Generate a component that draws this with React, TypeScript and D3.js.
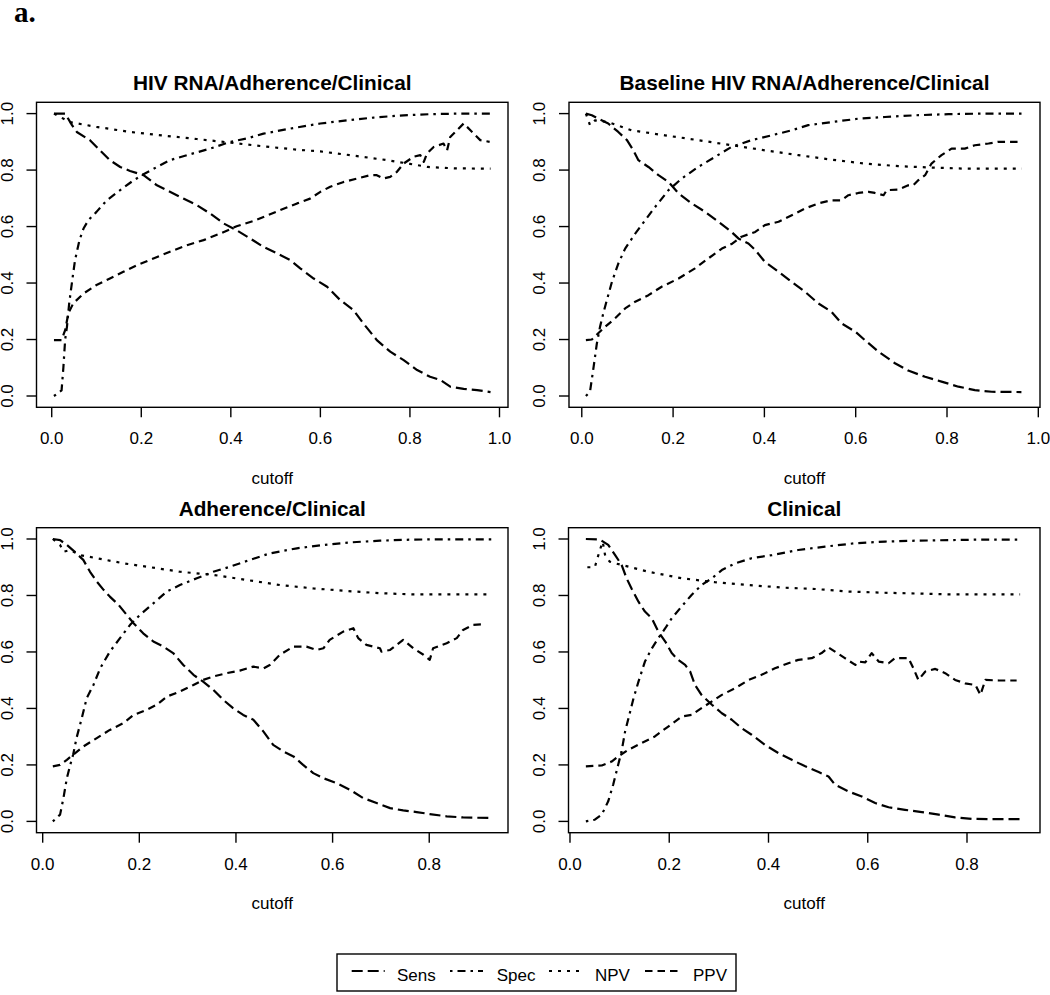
import React from "react";
import * as d3 from "d3";

type Pt = [number, number];

// ---------- DATA ----------
const panelTitles = [
  "HIV RNA/Adherence/Clinical",
  "Baseline HIV RNA/Adherence/Clinical",
  "Adherence/Clinical",
  "Clinical",
];
const seriesNames = ["Sens", "Spec", "NPV", "PPV"];
const yTickValues = [0, 0.2, 0.4, 0.6, 0.8, 1.0];
const xTickValuesTop = [0, 0.2, 0.4, 0.6, 0.8, 1.0];
const xTickValuesBottom = [0, 0.2, 0.4, 0.6, 0.8];
const xAxisLimits: [number, number][] = [
  [-0.034, 1.019],
  [-0.028, 1.0037],
  [-0.0128, 0.963],
  [-0.003, 0.9471],
];
const yAxisLimits: [number, number] = [-0.04, 1.04];

// Panel 1: HIV RNA/Adherence/Clinical
const p1Sens: Pt[] = [[.005,1.0],[.03,1.0],[.045,.96],[.056,.935],[.086,.905],[.104,.876],[.13,.835],[.153,.811],[.175,.797],[.205,.782],[.235,.746],[.264,.723],[.294,.699],[.324,.676],[.354,.646],[.384,.611],[.413,.587],[.443,.558],[.473,.528],[.503,.505],[.533,.481],[.555,.452],[.585,.416],[.615,.387],[.644,.34],[.674,.304],[.696,.257],[.726,.198],[.756,.157],[.786,.127],[.816,.092],[.845,.068],[.868,.057],[.89,.033],[.92,.025],[.95,.021],[.98,.014]];
const p1Spec: Pt[] = [[.005,0],[.022,.02],[.026,.1],[.03,.2],[.034,.245],[.039,.328],[.045,.4],[.052,.481],[.062,.552],[.071,.593],[.082,.623],[.1,.652],[.123,.693],[.153,.729],[.183,.764],[.205,.785],[.235,.811],[.264,.835],[.302,.853],[.354,.876],[.399,.9],[.436,.912],[.473,.929],[.533,.947],[.6,.965],[.659,.976],[.719,.986],[.786,.994],[.845,.998],[.912,1.0],[.98,1.0]];
const p1Npv: Pt[] = [[.005,1.0],[.04,.97],[.1,.953],[.175,.935],[.25,.922],[.324,.91],[.4,.897],[.473,.884],[.55,.872],[.6,.866],[.67,.852],[.745,.836],[.8,.822],[.84,.811],[.9,.806],[.98,.805]];
const p1Ppv: Pt[] = [[.005,.198],[.022,.198],[.03,.233],[.037,.292],[.048,.328],[.071,.363],[.1,.393],[.13,.416],[.16,.44],[.19,.463],[.227,.487],[.264,.511],[.302,.534],[.339,.552],[.376,.575],[.413,.601],[.451,.62],[.473,.634],[.51,.658],[.548,.682],[.577,.699],[.6,.723],[.622,.741],[.652,.758],[.682,.77],[.711,.782],[.726,.782],[.741,.77],[.756,.776],[.771,.794],[.786,.823],[.808,.847],[.823,.853],[.831,.829],[.838,.859],[.853,.882],[.875,.894],[.883,.87],[.89,.917],[.905,.941],[.92,.965],[.935,.941],[.957,.906],[.978,.9]];

// Panel 2: Baseline HIV RNA/Adherence/Clinical
const p2Sens: Pt[] = [[.009,1.0],[.022,.994],[.036,.982],[.058,.965],[.08,.935],[.099,.906],[.113,.87],[.124,.835],[.146,.811],[.168,.782],[.19,.758],[.212,.717],[.241,.682],[.27,.652],[.299,.617],[.328,.581],[.343,.558],[.365,.54],[.38,.517],[.401,.475],[.431,.44],[.46,.404],[.489,.369],[.518,.328],[.547,.298],[.569,.257],[.599,.228],[.62,.198],[.65,.157],[.686,.116],[.715,.09],[.752,.068],[.788,.051],[.825,.033],[.861,.021],[.898,.015],[.963,.014]];
const p2Spec: Pt[] = [[.009,0],[.018,.015],[.026,.104],[.033,.186],[.04,.245],[.047,.292],[.055,.34],[.066,.404],[.08,.469],[.095,.522],[.117,.575],[.139,.623],[.161,.67],[.19,.729],[.219,.77],[.255,.811],[.292,.847],[.328,.882],[.372,.906],[.416,.923],[.46,.941],[.496,.959],[.547,.97],[.606,.982],[.664,.988],[.73,.994],[.803,.998],[.876,1.0],[.964,1.0]];
const p2Npv: Pt[] = [[.009,1.0],[.018,.959],[.029,.976],[.058,.97],[.109,.941],[.182,.923],[.255,.906],[.328,.888],[.401,.87],[.474,.853],[.547,.837],[.62,.823],[.693,.814],[.766,.809],[.839,.805],[.964,.805]];
const p2Ppv: Pt[] = [[.009,.198],[.022,.2],[.036,.222],[.051,.245],[.073,.275],[.095,.31],[.117,.334],[.146,.357],[.175,.387],[.212,.416],[.248,.452],[.277,.487],[.307,.522],[.328,.538],[.35,.564],[.38,.581],[.401,.605],[.431,.617],[.46,.64],[.489,.664],[.518,.682],[.547,.693],[.569,.693],[.584,.711],[.606,.719],[.628,.723],[.642,.719],[.661,.711],[.668,.729],[.693,.731],[.715,.746],[.726,.746],[.737,.764],[.752,.782],[.766,.823],[.788,.853],[.81,.876],[.839,.876],[.861,.888],[.891,.894],[.912,.9],[.964,.9]];

// Panel 3: Adherence/Clinical
const p3Sens: Pt[] = [[.021,1.0],[.036,.996],[.05,.979],[.07,.949],[.084,.926],[.098,.884],[.112,.849],[.126,.82],[.139,.796],[.157,.767],[.174,.731],[.188,.702],[.208,.666],[.229,.637],[.25,.619],[.27,.596],[.291,.554],[.312,.519],[.332,.495],[.353,.466],[.374,.43],[.394,.401],[.415,.377],[.436,.36],[.457,.318],[.477,.271],[.498,.248],[.519,.23],[.539,.2],[.56,.171],[.581,.153],[.608,.136],[.636,.112],[.663,.083],[.691,.065],[.719,.047],[.746,.039],[.774,.033],[.801,.026],[.836,.018],[.87,.014],[.929,.012]];
const p3Spec: Pt[] = [[.021,0],[.036,.024],[.043,.083],[.05,.153],[.057,.2],[.063,.236],[.07,.295],[.081,.366],[.091,.436],[.105,.483],[.119,.542],[.139,.601],[.16,.649],[.181,.696],[.201,.731],[.229,.772],[.257,.814],[.284,.837],[.319,.861],[.353,.884],[.388,.902],[.429,.926],[.47,.949],[.526,.967],[.581,.979],[.636,.988],[.698,.994],[.767,.998],[.836,.999],[.929,.999]];
const p3Npv: Pt[] = [[.021,1.0],[.036,.979],[.043,.955],[.057,.961],[.077,.943],[.112,.932],[.167,.914],[.215,.902],[.284,.884],[.353,.873],[.422,.855],[.491,.837],[.56,.825],[.629,.816],[.698,.808],[.767,.804],[.929,.804]];
const p3Ppv: Pt[] = [[.021,.195],[.036,.2],[.05,.218],[.063,.236],[.084,.265],[.112,.295],[.139,.324],[.167,.348],[.188,.377],[.215,.395],[.236,.413],[.257,.442],[.284,.46],[.312,.483],[.332,.501],[.353,.513],[.381,.525],[.408,.534],[.436,.548],[.457,.542],[.47,.554],[.491,.59],[.519,.619],[.546,.619],[.567,.607],[.581,.613],[.594,.643],[.622,.672],[.643,.684],[.653,.649],[.67,.625],[.698,.613],[.701,.601],[.719,.607],[.746,.643],[.767,.613],[.788,.59],[.801,.572],[.808,.613],[.836,.631],[.857,.649],[.87,.678],[.891,.696],[.915,.698]];

// Panel 4: Clinical
const p4Sens: Pt[] = [[.032,1.0],[.06,.998],[.077,.979],[.091,.943],[.104,.908],[.114,.861],[.124,.825],[.138,.778],[.151,.743],[.165,.719],[.178,.672],[.192,.637],[.205,.596],[.218,.572],[.232,.554],[.242,.531],[.252,.483],[.265,.448],[.286,.413],[.306,.383],[.326,.36],[.346,.33],[.366,.307],[.393,.271],[.42,.242],[.447,.218],[.474,.195],[.501,.175],[.521,.159],[.534,.13],[.561,.106],[.588,.088],[.615,.065],[.642,.05],[.675,.041],[.709,.033],[.743,.024],[.776,.014],[.81,.009],[.85,.008],[.907,.008]];
const p4Spec: Pt[] = [[.032,0],[.05,.006],[.064,.024],[.077,.071],[.087,.13],[.097,.2],[.104,.248],[.111,.318],[.118,.366],[.128,.436],[.138,.495],[.151,.566],[.165,.613],[.178,.649],[.192,.684],[.205,.719],[.225,.761],[.245,.802],[.265,.837],[.286,.861],[.306,.89],[.333,.914],[.366,.932],[.407,.943],[.46,.961],[.514,.973],[.575,.985],[.635,.991],[.696,.994],[.763,.996],[.83,.998],[.907,.998]];
const p4Npv: Pt[] = [[.035,.9],[.05,.9],[.06,.96],[.066,.99],[.071,.94],[.08,.92],[.091,.914],[.158,.884],[.225,.861],[.292,.847],[.36,.837],[.427,.828],[.494,.823],[.561,.814],[.628,.81],[.696,.807],[.763,.804],[.907,.804]];
const p4Ppv: Pt[] = [[.032,.195],[.064,.198],[.084,.212],[.097,.23],[.118,.254],[.144,.277],[.171,.301],[.198,.336],[.225,.371],[.245,.377],[.265,.401],[.286,.425],[.306,.448],[.333,.472],[.36,.501],[.386,.519],[.413,.542],[.44,.56],[.46,.572],[.487,.578],[.507,.596],[.521,.616],[.534,.601],[.554,.578],[.575,.554],[.581,.566],[.595,.563],[.608,.596],[.622,.566],[.642,.56],[.655,.578],[.682,.578],[.692,.542],[.702,.501],[.716,.531],[.736,.54],[.756,.525],[.776,.501],[.796,.489],[.817,.483],[.827,.448],[.837,.501],[.864,.499],[.9,.499]];

const panelSeries: Pt[][][] = [
  [p1Sens, p1Spec, p1Npv, p1Ppv],
  [p2Sens, p2Spec, p2Npv, p2Ppv],
  [p3Sens, p3Spec, p3Npv, p3Ppv],
  [p4Sens, p4Spec, p4Npv, p4Ppv],
];

// ---------- LAYOUT / STYLE ----------
const W = 1050;
const H = 995;
const FONT = "'Liberation Sans', Arial, Helvetica, sans-serif";
const boxes = [
  { l: 36.5, r: 508, t: 102.3, b: 407.3 },
  { l: 569, r: 1040, t: 102.3, b: 407.3 },
  { l: 36.5, r: 508, t: 527.7, b: 832.7 },
  { l: 568.5, r: 1040, t: 527.7, b: 832.7 },
];
const dashes = ["11 5", "2.5 5 8 5", "3 6", "7.5 5"];
const LW = 2.2;
const legendBox = { l: 337, r: 736, t: 954, b: 991 };
const legendSegX = [351.7, 450, 549, 645];
const legendTextX = [397, 496.7, 595, 693];

function Panel({ idx }: { idx: number }) {
  const box = boxes[idx];
  const x = d3.scaleLinear().domain(xAxisLimits[idx]).range([box.l, box.r]);
  const y = d3.scaleLinear().domain(yAxisLimits).range([box.b, box.t]);
  const line = d3
    .line<Pt>()
    .x((d) => x(d[0]))
    .y((d) => y(d[1]));
  const xTicks = idx < 2 ? xTickValuesTop : xTickValuesBottom;
  const cx = (box.l + box.r) / 2;
  return (
    <g>
      <text
        x={cx}
        y={box.t - 12}
        textAnchor="middle"
        fontFamily={FONT}
        fontWeight="bold"
        fontSize={20.8}
      >
        {panelTitles[idx]}
      </text>
      {panelSeries[idx].map((s, i) => (
        <path
          key={i}
          d={line(s) || ""}
          fill="none"
          stroke="#000"
          strokeWidth={LW}
          strokeDasharray={dashes[i]}
          strokeLinejoin="round"
        />
      ))}
      <rect
        x={box.l}
        y={box.t}
        width={box.r - box.l}
        height={box.b - box.t}
        fill="none"
        stroke="#000"
        strokeWidth={1.4}
      />
      {xTicks.map((t) => (
        <g key={"x" + t}>
          <line x1={x(t)} x2={x(t)} y1={box.b} y2={box.b + 10} stroke="#000" strokeWidth={1.4} />
          <text x={x(t)} y={box.b + 37} textAnchor="middle" fontFamily={FONT} fontSize={17}>
            {t.toFixed(1)}
          </text>
        </g>
      ))}
      {yTickValues.map((t) => (
        <g key={"y" + t}>
          <line x1={box.l - 10} x2={box.l} y1={y(t)} y2={y(t)} stroke="#000" strokeWidth={1.4} />
          <text
            transform={`translate(${box.l - 24},${y(t)}) rotate(-90)`}
            textAnchor="middle"
            fontFamily={FONT}
            fontSize={17}
          >
            {t.toFixed(1)}
          </text>
        </g>
      ))}
      <text x={cx} y={box.b + 76.7} textAnchor="middle" fontFamily={FONT} fontSize={17}>
        cutoff
      </text>
    </g>
  );
}

export default function App() {
  return (
    <svg
      width={W}
      height={H}
      viewBox={`0 0 ${W} ${H}`}
      style={{ position: "absolute", left: 0, top: 0, background: "#fff" }}
    >
      <rect x={0} y={0} width={W} height={H} fill="#fff" />
      <text
        x={14}
        y={22}
        fontFamily="'Liberation Serif', 'Times New Roman', serif"
        fontWeight="bold"
        fontSize={29}
      >
        a.
      </text>
      {[0, 1, 2, 3].map((i) => (
        <Panel key={i} idx={i} />
      ))}
      <rect
        x={legendBox.l}
        y={legendBox.t}
        width={legendBox.r - legendBox.l}
        height={legendBox.b - legendBox.t}
        fill="none"
        stroke="#000"
        strokeWidth={1.4}
      />
      {seriesNames.map((n, i) => (
        <g key={n}>
          <line
            x1={legendSegX[i]}
            x2={legendSegX[i] + 33}
            y1={971}
            y2={971}
            stroke="#000"
            strokeWidth={LW}
            strokeDasharray={dashes[i]}
          />
          <text x={legendTextX[i]} y={981} fontFamily={FONT} fontSize={17}>
            {n}
          </text>
        </g>
      ))}
    </svg>
  );
}
